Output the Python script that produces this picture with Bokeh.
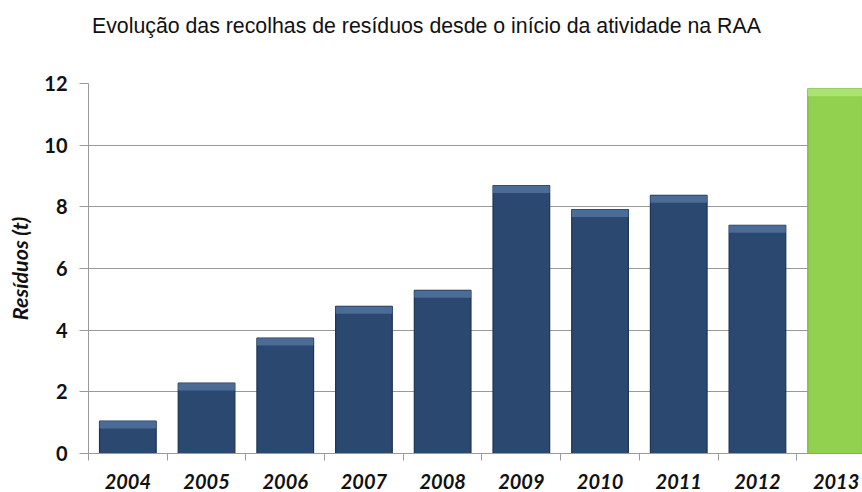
from bokeh.plotting import figure
from bokeh.models import Range1d, FixedTicker, ColumnDataSource, Div
from bokeh.layouts import column
from bokeh.embed import file_html
from bokeh.resources import INLINE

years = ["2004", "2005", "2006", "2007", "2008", "2009", "2010", "2011", "2012", "2013"]
residuos = [1.05, 2.28, 3.74, 4.77, 5.29, 8.69, 7.91, 8.37, 7.40, 11.83]
title_text = "Evolução das recolhas de resíduos desde o início da atividade na RAA"
y_label = "Resíduos (t)"
y_ticks = [0, 2, 4, 6, 8, 10, 12]

navy, navy_top, navy_edge = "#2A4870", "#4F709A", "#1C3352"
green, green_top, green_edge = "#92D050", "#AEE476", "#78B23C"

xs = [i + 0.5 for i in range(len(years))]
fills = [navy] * (len(years) - 1) + [green]
tops = [navy_top] * (len(years) - 1) + [green_top]
edges = [navy_edge] * (len(years) - 1) + [green_edge]
bevel = 0.24
src = ColumnDataSource(dict(x=xs, top=residuos, bt=[v - bevel for v in residuos],
                            fill=fills, topc=tops, edge=edges))

title_div = Div(text=title_text, width=862, height=40, margin=(0, 0, 0, 0),
                styles={"font-family": "'Liberation Sans', Arial, sans-serif",
                        "font-size": "21.3px", "line-height": "1.15",
                        "color": "#111111", "padding-left": "92px",
                        "padding-top": "14px", "box-sizing": "border-box",
                        "white-space": "nowrap"})

p = figure(width=862, height=452, x_range=Range1d(0, 9.835), y_range=Range1d(0, 12),
           output_backend="svg", toolbar_location=None, margin=(0, 0, 0, 0),
           min_border_left=88, min_border_right=0, min_border_top=43, min_border_bottom=39)
p.outline_line_color = None
p.background_fill_color = "white"

p.vbar(x="x", top="top", bottom=0, width=0.72, source=src,
       fill_color="fill", line_color="edge", line_width=1.2)
p.vbar(x="x", top="top", bottom="bt", width=0.72, source=src,
       fill_color="topc", line_color=None, fill_alpha=0.9)

p.xgrid.visible = False
p.ygrid.ticker = FixedTicker(ticks=y_ticks)
p.ygrid.grid_line_color = "#9A9A9A"
p.ygrid.grid_line_width = 1

yax = p.yaxis[0]
yax.ticker = FixedTicker(ticks=y_ticks)
yax.axis_line_color = "#9A9A9A"
yax.major_tick_line_color = "#9A9A9A"
yax.major_tick_out = 9
yax.major_tick_in = 0
yax.minor_tick_line_color = None
yax.major_label_text_font = "Lato"
yax.major_label_text_font_style = "bold"
yax.major_label_text_font_size = "20px"
yax.major_label_text_color = "#111111"
yax.major_label_standoff = 12
yax.axis_label = y_label
yax.axis_label_text_font = "Lato"
yax.axis_label_text_font_style = "bold italic"
yax.axis_label_text_font_size = "21.5px"
yax.axis_label_text_color = "#111111"
yax.axis_label_standoff = 8

xax = p.xaxis[0]
xax.ticker = FixedTicker(ticks=xs, minor_ticks=list(range(len(years) + 1)))
xax.major_label_overrides = {x: y for x, y in zip(xs, years)}
xax.axis_line_color = "#9A9A9A"
xax.major_tick_line_color = None
xax.major_tick_out = 0
xax.minor_tick_line_color = "#9A9A9A"
xax.minor_tick_out = 7
xax.minor_tick_in = 0
xax.major_label_text_font = "Lato"
xax.major_label_text_font_style = "bold italic"
xax.major_label_text_font_size = "20px"
xax.major_label_text_color = "#111111"
xax.major_label_standoff = 13

layout = column(title_div, p, spacing=0, margin=(0, 0, 0, 0))
open("out.html", "w").write(file_html(layout, INLINE))
